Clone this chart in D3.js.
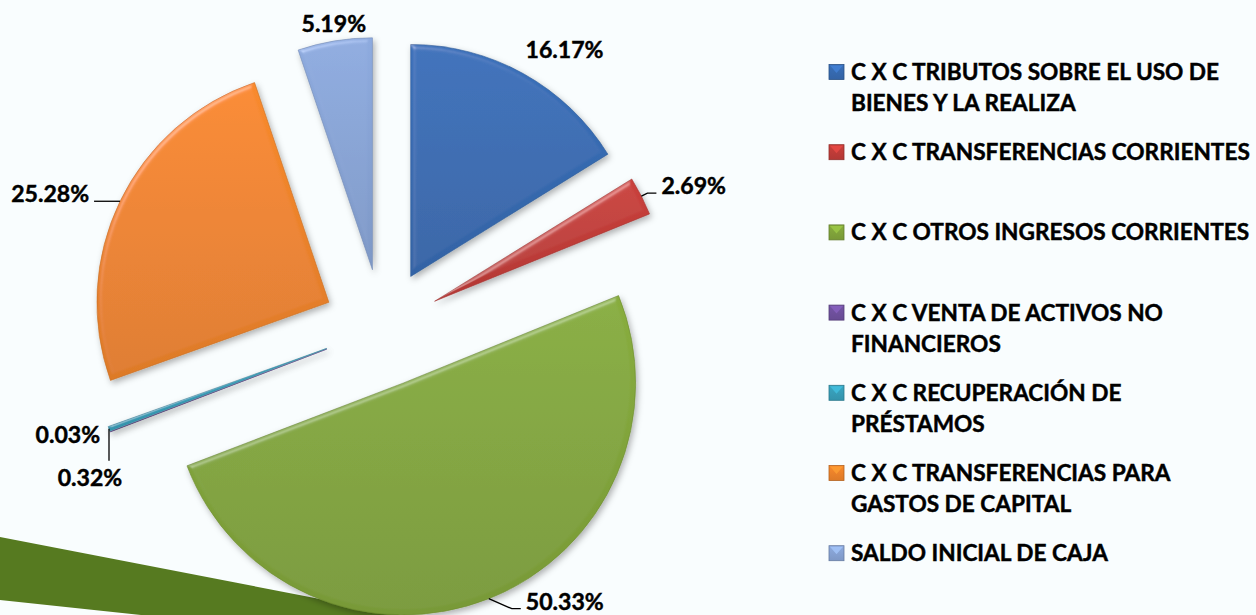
<!DOCTYPE html>
<html>
<head>
<meta charset="utf-8">
<script src="https://cdn.jsdelivr.net/npm/d3@7"></script>
<style>
  html, body { margin: 0; padding: 0; background: #f9fdfe; }
  svg { display: block; }
  text { font-family: Lato, 'Liberation Sans', sans-serif; font-weight: 700; fill: #000; stroke: #000; stroke-width: 0.45px; }
</style>
</head>
<body>
<svg id="chart" width="1256" height="615"></svg>
<script>
// categories, in pie order (clockwise from 12 o'clock)
const categories = [
    'C X C TRIBUTOS SOBRE EL USO DE BIENES Y LA REALIZA',
    'C X C TRANSFERENCIAS CORRIENTES',
    'C X C OTROS INGRESOS CORRIENTES',
    'C X C VENTA DE ACTIVOS NO FINANCIEROS',
    'C X C RECUPERACIÓN DE PRÉSTAMOS',
    'C X C TRANSFERENCIAS PARA GASTOS DE CAPITAL',
    'SALDO INICIAL DE CAJA'
];
// legend text as it wraps in the original
const legendLines = [
    ['C X C TRIBUTOS SOBRE EL USO DE', 'BIENES Y LA REALIZA'],
    ['C X C TRANSFERENCIAS CORRIENTES'],
    ['C X C OTROS INGRESOS CORRIENTES'],
    ['C X C VENTA DE ACTIVOS NO', 'FINANCIEROS'],
    ['C X C RECUPERACIÓN DE', 'PRÉSTAMOS'],
    ['C X C TRANSFERENCIAS PARA', 'GASTOS DE CAPITAL'],
    ['SALDO INICIAL DE CAJA']
];
const shares = [16.17, 2.69, 50.33, 0.03, 0.32, 25.28, 5.19];
const colors = ['#376bb2', '#c23d39', '#82a63b', '#70519f', '#389fba', '#ef842b', '#88a4d6'];

// label placement relative to the outer point of each slice's bisector
const labelLayout = [
    { dx: 41, dy: -24, anchor: 'middle', leader: 'none' },
    { dx: 20, dy: -10, anchor: 'start', leader: 'side' },
    { dx: 37, dy: 3, anchor: 'start', leader: 'side' },
    { dx: -10, dy: 3, anchor: 'end', leader: 'none' },
    { dx: -19, dy: 49, anchor: 'middle', leader: 'down' },
    { dx: -31, dy: -7, anchor: 'end', leader: 'side' },
    { dx: -1, dy: -17, anchor: 'middle', leader: 'none' }
];

const width = 1256;
const height = 615;
const cx = 382, cy = 328;
const radius = 232;
const explode = 59;

const svg = d3.select('#chart');

svg.append('rect')
    .attr('width', width)
    .attr('height', height)
    .attr('fill', '#f9fdfe');

const defs = svg.append('defs');

// one vertical gradient per slice colour
colors.forEach(function(c, i) {
    const g = defs.append('linearGradient')
        .attr('id', 'grad' + i)
        .attr('x1', 0).attr('y1', 0).attr('x2', 0).attr('y2', 1);
    g.append('stop').attr('offset', '0%').attr('stop-color', d3.color(c).brighter(0.12));
    g.append('stop').attr('offset', '100%').attr('stop-color', d3.color(c).darker(0.22));
});

// soft bevel + drop shadow like the office chart style
const f = defs.append('filter').attr('id', 'bevel')
    .attr('x', '-15%').attr('y', '-15%').attr('width', '135%').attr('height', '135%');
f.append('feGaussianBlur').attr('in', 'SourceAlpha').attr('stdDeviation', 2.5).attr('result', 'blur');
f.append('feSpecularLighting')
    .attr('in', 'blur')
    .attr('surfaceScale', 3)
    .attr('specularConstant', 0.7)
    .attr('specularExponent', 25)
    .attr('lighting-color', '#ffffff')
    .attr('result', 'spec')
    .append('feDistantLight').attr('azimuth', 235).attr('elevation', 38);
f.append('feComposite').attr('in', 'spec').attr('in2', 'SourceAlpha').attr('operator', 'in').attr('result', 'specIn');
f.append('feComposite').attr('in', 'SourceGraphic').attr('in2', 'specIn')
    .attr('operator', 'arithmetic').attr('k1', 0).attr('k2', 1).attr('k3', 0.3).attr('k4', 0)
    .attr('result', 'lit');
f.append('feGaussianBlur').attr('in', 'SourceAlpha').attr('stdDeviation', 3).attr('result', 'sblur');
f.append('feOffset').attr('in', 'sblur').attr('dx', 2).attr('dy', 3).attr('result', 'soff');
f.append('feFlood').attr('flood-color', '#000').attr('flood-opacity', 0.3).attr('result', 'sc');
f.append('feComposite').attr('in', 'sc').attr('in2', 'soff').attr('operator', 'in').attr('result', 'shadow');
const fm = f.append('feMerge');
fm.append('feMergeNode').attr('in', 'shadow');
fm.append('feMergeNode').attr('in', 'lit');

// stray dark green streak seen under the big slice in the original picture
svg.append('path')
    .attr('d', 'M0,537 L470,628 L470,650 L0,600 Z')
    .attr('fill', '#567a20');

const pie = d3.pie().sort(null).value(d => d);
const arcs = pie(shares);
const arc = d3.arc().innerRadius(0).outerRadius(radius);

const chart = svg.append('g').attr('transform', 'translate(' + cx + ',' + cy + ')');

function midAngle(d) { return (d.startAngle + d.endAngle) / 2; }
function offsetOf(d, r) {
    const a = midAngle(d);
    return [r * Math.sin(a), -r * Math.cos(a)];
}

chart.selectAll('g.slice')
    .data(arcs)
    .enter().append('g')
    .attr('class', 'slice')
    .attr('transform', function(d) {
        const o = offsetOf(d, explode);
        return 'translate(' + o[0] + ',' + o[1] + ')';
    })
    .append('path')
    .attr('d', arc)
    .attr('fill', (d, i) => 'url(#grad' + i + ')')
    .attr('stroke', (d, i) => d3.color(colors[i]).darker(0.5))
    .attr('stroke-width', 0.6)
    .attr('filter', 'url(#bevel)');

// measure font sizes so text widths match the original
function fitSize(str, target) {
    const t = svg.append('text').attr('font-size', 20).text(str);
    const w = t.node().getComputedTextLength();
    t.remove();
    return 20 * target / w;
}
const labelSize = fitSize('16.17%', 78);
const legendSize = fitSize('C X C TRANSFERENCIAS CORRIENTES', 399);

// data labels + leader lines
const labels = chart.append('g');
arcs.forEach(function(d, i) {
    const o = offsetOf(d, explode + radius);
    const L = labelLayout[i];
    const x = o[0] + L.dx;
    const y = o[1] + L.dy;
    labels.append('text')
        .attr('x', x)
        .attr('y', y)
        .attr('dy', '0.35em')
        .attr('text-anchor', L.anchor)
        .attr('font-size', labelSize)
        .text(shares[i].toFixed(2) + '%');

    let pts = null;
    if (L.leader === 'side') {
        const s = L.anchor === 'start' ? 1 : -1;
        const end = [x - 5 * s, y + 7];
        const elbow = [end[0] - 9 * s, end[1]];
        pts = [o, elbow, end];
    } else if (L.leader === 'down') {
        pts = [o, [o[0], y - 17]];
    }
    if (pts) {
        labels.append('path')
            .attr('d', d3.line()(pts))
            .attr('fill', 'none')
            .attr('stroke', '#000')
            .attr('stroke-width', 1.3);
    }
});

// legend
const legendX = 829;
const legendTop = 72;
const legendPitch = 80.2;
const lineGap = 31;

const legend = svg.append('g');
legendLines.forEach(function(lines, i) {
    const y0 = legendTop + i * legendPitch;
    legend.append('rect')
        .attr('x', legendX)
        .attr('y', y0 - 7.5)
        .attr('width', 15)
        .attr('height', 15)
        .attr('fill', 'url(#grad' + i + ')')
        .attr('stroke', d3.color(colors[i]).darker(0.8))
        .attr('stroke-width', 0.8);
    // small lighter bevel triangle on top of the marker
    legend.append('path')
        .attr('d', d3.line()([[legendX + 1, y0 - 6.5], [legendX + 14, y0 - 6.5], [legendX + 7.5, y0 + 1]]))
        .attr('fill', d3.color(colors[i]).brighter(0.6))
        .attr('opacity', 0.7);
    lines.forEach(function(line, j) {
        legend.append('text')
            .attr('x', legendX + 22)
            .attr('y', y0 + j * lineGap)
            .attr('dy', '0.35em')
            .attr('font-size', legendSize)
            .text(line);
    });
});
</script>
</body>
</html>
